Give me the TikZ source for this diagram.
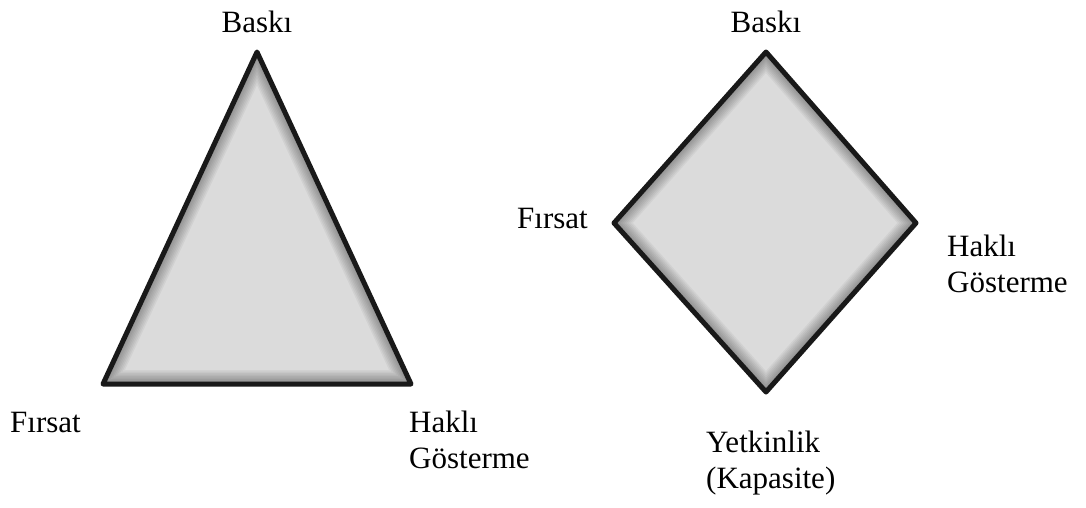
\documentclass[tikz,border=0pt]{standalone}
\usepackage{fontspec}
\setmainfont{Liberation Serif}
\begin{document}
\begin{tikzpicture}[x=1pt,y=-1pt,
  lbl/.style={inner sep=0pt, font=\fontsize{31}{36}\selectfont, align=left},
  edge/.style={draw=black!90, line width=5pt, line join=round},
  shade/.style={draw=black, opacity=0.045},
  body/.style={fill=black!14}]
\useasboundingbox (0,0) rectangle (1086,507);
% triangle vertices
\coordinate (tA) at (257,52);
\coordinate (tB) at (103,384);
\coordinate (tC) at (411,384);
% diamond vertices
\coordinate (dT) at (766,52);
\coordinate (dL) at (614,223);
\coordinate (dR) at (916,223);
\coordinate (dB) at (766,392);
% triangle body with inner shadow
\begin{scope}
  \clip (tA) -- (tB) -- (tC) -- cycle;
  \fill[body] (tA) -- (tB) -- (tC) -- cycle;
  \foreach \w in {4,7,...,28}{
    \draw[shade, line width=\w pt] (tA) -- (tB) -- (tC) -- cycle;
  }
\end{scope}
\draw[edge] (tA) -- (tB) -- (tC) -- cycle;
% diamond body with inner shadow
\begin{scope}
  \clip (dT) -- (dR) -- (dB) -- (dL) -- cycle;
  \fill[body] (dT) -- (dR) -- (dB) -- (dL) -- cycle;
  \foreach \w in {4,7,...,28}{
    \draw[shade, line width=\w pt] (dT) -- (dR) -- (dB) -- (dL) -- cycle;
  }
\end{scope}
\draw[edge] (dT) -- (dR) -- (dB) -- (dL) -- cycle;
% labels
\node[lbl, anchor=base] (l1) at (257,32) {Baskı};
\node[lbl, anchor=base west] (l2) at (10,432) {Fırsat};
\node[lbl, anchor=base west] (l3) at (409,468) {Haklı\\Gösterme};
\node[lbl, anchor=base] (r1) at (766,32) {Baskı};
\node[lbl, anchor=base west] (r2) at (517,228) {Fırsat};
\node[lbl, anchor=base west] (r3) at (947,292) {Haklı\\Gösterme};
\node[lbl, anchor=base west] (r4) at (706,488) {Yetkinlik\\(Kapasite)};
\end{tikzpicture}
\end{document}
